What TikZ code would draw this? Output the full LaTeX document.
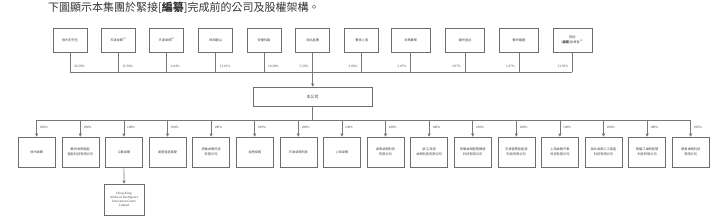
\documentclass[tikz,border=0pt]{standalone}
\usepackage{fontspec}
\setmainfont{Liberation Serif}
\newfontfamily\cjk{Noto Sans CJK TC}
\usetikzlibrary{arrows.meta,shadows}
\definecolor{linegray}{RGB}{120,120,120}
\definecolor{boxgray}{RGB}{110,110,110}
\definecolor{txtgray}{RGB}{70,70,70}
\tikzset{
  boxbase/.style={draw=boxgray, line width=0.6pt, fill=white, inner sep=0pt, align=center,
    text=txtgray, drop shadow={shadow xshift=0.5pt, shadow yshift=-0.5pt, fill=black!45, opacity=1}},
  topbox/.style={boxbase, minimum width=34pt, minimum height=24pt, font=\cjk\fontsize{3.2}{4.2}\selectfont},
  widebox/.style={topbox, minimum width=39pt},
  subbox/.style={boxbase, minimum width=37pt, minimum height=30pt, font=\cjk\fontsize{3.2}{4.6}\selectfont},
  cobox/.style={boxbase, minimum width=119pt, minimum height=19pt, font=\cjk\fontsize{4}{5}\selectfont},
  hkbox/.style={boxbase, minimum width=40pt, minimum height=31pt, font=\fontsize{3.3}{4.1}\selectfont},
  conn/.style={draw=linegray, line width=0.6pt},
  arr/.style={conn, -{Triangle[width=3pt,length=3pt]}},
  pct/.style={font=\fontsize{3.4}{4}\selectfont, text=txtgray, inner sep=0pt},
}
\begin{document}
\begin{tikzpicture}[x=1pt,y=-1pt]
\useasboundingbox (0,0) rectangle (717,218);
\node[anchor=west, inner sep=0pt, text=black!80, font=\cjk\fontsize{11}{13}\selectfont] (title) at (48,8)
  {下圖顯示本集團於緊接[{\bfseries 編纂}]完成前的公司及股權架構。};

% top row
\node[topbox] (t1) at (70,40) {張大宏先生};
\node[topbox] (t2) at (118.3,40) {天津卓朗\textsuperscript{(1)}};
\node[topbox] (t3) at (166.7,40) {天津卓朗\textsuperscript{(2)}};
\node[topbox] (t4) at (215.7,40) {珠海碧山};
\node[topbox] (t5) at (264,40) {安徽科路};
\node[topbox] (t6) at (312.7,40) {湖北晶樓};
\node[topbox] (t7) at (361.7,40) {賽世上海};
\node[widebox] (t8) at (410.7,40) {烏瑪實業};
\node[widebox] (t9) at (465,40) {福州金谷};
\node[widebox] (t10) at (519,40) {衢州路通};
\node[widebox] (t11) at (572.3,40) {其他\\{[{\bfseries 編纂}]}投資者\textsuperscript{(3)}};

\coordinate (hline) at (0,72);
\draw[conn] (t1.south |- hline) -- (t11.south |- hline);
\foreach \i in {1,...,11} { \draw[conn] (t\i.south) -- (t\i.south |- hline); }

\foreach \i/\p in {1/26.29\%,2/15.93\%,3/4.94\%,4/13.61\%,5/10.30\%} {
  \node[pct, anchor=west] (p\i) at ([xshift=4pt]t\i.south |- 0,66) {\p};
}
\foreach \i/\p in {6/5.20\%,7/2.60\%,8/2.07\%,9/2.07\%,10/1.47\%,11/13.56\%} {
  \node[pct, anchor=east] (p\i) at ([xshift=-4pt]t\i.south |- 0,66) {\p};
}

% company
\node[cobox] (co) at (312.7,96.5) {本公司};
\draw[arr] (t6.south |- hline) -- (co.north);

% subsidiaries
\coordinate (bline) at (0,120);
\foreach \i/\t in {
  1/{徐州卓朗},
  2/{蘇州卓朗智能\\智能科技有限公司},
  3/{江蘇卓朗},
  4/{湖南智能駕駛},
  5/{安徽卓朗科技\\有限公司},
  6/{合肥卓朗},
  7/{天津卓朗科技},
  8/{上海卓朗},
  9/{湖南卓朗科技\\有限公司},
  10/{浙江/寧波\\卓朗科技有限公司},
  11/{安徽卓朗智慧網絡\\科技有限公司},
  12/{天津智慧新能源\\科技有限公司},
  13/{上海卓朗汽車\\科技有限公司},
  14/{湖北卓朗人工智能\\科技有限公司},
  15/{黑龍江卓朗智慧\\科技有限公司},
  16/{華東卓朗科技\\有限公司}} {
  \node[subbox] (s\i) at ({36.7+43.6*(\i-1)},152) {\t};
}
\draw[conn] (co.south) -- (co.south |- bline);
\draw[conn] (s1.north |- bline) -- (s16.north |- bline);
\foreach \i in {1,...,16} {
  \draw[arr] (s\i.north |- bline) -- (s\i.north);
  \node[pct, anchor=west] (q\i) at ([xshift=3pt]s\i.north |- 0,127) {100\%};
}

% Hong Kong
\node[hkbox] (hk) at (124.1,199.5) {Hong Kong\\Artificial Intelligence\\Innovation Centre\\Limited};
\draw[arr] (s3.south) -- (hk.north);
\end{tikzpicture}
\end{document}
